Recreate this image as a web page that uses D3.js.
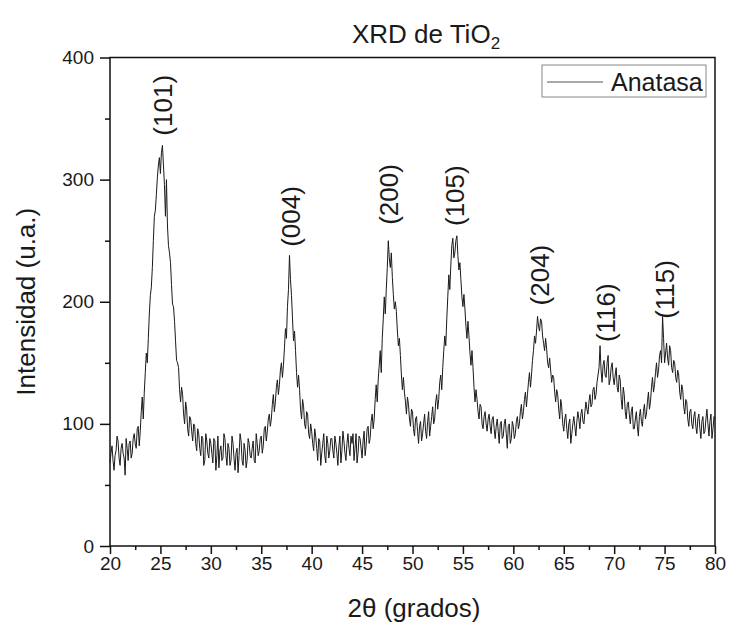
<!DOCTYPE html>
<html>
<head>
<meta charset="utf-8">
<script src="https://cdn.jsdelivr.net/npm/d3@7"></script>
<style>
  body { margin: 0; background: #fff; }
  text { font-family: "Liberation Sans", Arial, sans-serif; fill: #1a1a1a; }
</style>
</head>
<body>
<svg id="chart" width="729" height="627"></svg>
<script>
// scan: 20 - 80 deg, one reading every 0.1 deg
const scanStart = 20, scanStep = 0.1;
const intensity = [
  68, 76, 82, 70, 62, 74, 78, 90, 86, 72, 66, 80, 84, 76, 72, 58, 88, 80, 70, 84,
  86, 72, 76, 88, 92, 84, 80, 96, 98, 82, 94, 110, 122, 104, 126, 142, 158, 150, 170, 190,
  205, 212, 228, 250, 270, 275, 288, 302, 312, 318, 305, 322, 328, 312, 296, 270, 300, 262, 246, 240,
  232, 214, 198, 196, 184, 168, 152, 150, 146, 128, 118, 130, 124, 108, 100, 118, 112, 96, 90, 106,
  104, 94, 86, 100, 98, 84, 78, 96, 92, 80, 74, 90, 88, 66, 70, 92, 86, 76, 72, 88,
  84, 76, 68, 88, 86, 62, 74, 90, 64, 78, 82, 70, 72, 92, 88, 74, 66, 84, 80, 66,
  70, 90, 84, 72, 62, 76, 80, 60, 74, 92, 86, 70, 66, 84, 78, 64, 70, 88, 84, 74,
  72, 80, 86, 70, 68, 92, 84, 74, 78, 88, 90, 76, 82, 96, 98, 86, 94, 104, 108, 98,
  104, 116, 124, 110, 118, 130, 136, 124, 132, 144, 150, 138, 148, 162, 178, 170, 196, 210, 238, 218,
  205, 186, 168, 176, 160, 142, 130, 140, 128, 112, 104, 120, 114, 100, 96, 110, 108, 92, 88, 100,
  94, 84, 78, 96, 90, 80, 70, 88, 86, 66, 76, 84, 92, 74, 68, 90, 84, 72, 78, 88,
  88, 78, 72, 90, 84, 76, 66, 82, 90, 68, 78, 94, 86, 76, 70, 84, 92, 80, 74, 90,
  84, 92, 70, 80, 92, 68, 76, 90, 88, 80, 72, 86, 94, 74, 82, 96, 98, 84, 88, 102,
  108, 96, 104, 120, 132, 118, 136, 148, 160, 142, 170, 186, 204, 190, 210, 228, 250, 236, 228, 240,
  220, 206, 194, 200, 192, 176, 164, 170, 156, 140, 128, 138, 126, 118, 108, 122, 116, 104, 98, 112,
  110, 96, 90, 104, 106, 94, 84, 98, 102, 86, 92, 100, 108, 94, 88, 102, 110, 90, 98, 106,
  114, 100, 104, 118, 124, 112, 120, 134, 140, 128, 146, 160, 172, 164, 186, 204, 222, 210, 230, 246,
  252, 236, 240, 250, 254, 238, 226, 232, 218, 204, 196, 206, 194, 180, 170, 184, 172, 158, 148, 160,
  146, 130, 118, 128, 120, 110, 104, 116, 114, 100, 96, 106, 110, 100, 94, 104, 108, 98, 92, 104,
  106, 96, 88, 98, 104, 94, 84, 100, 102, 88, 90, 100, 104, 92, 80, 98, 100, 84, 88, 102,
  98, 88, 92, 102, 106, 96, 100, 110, 116, 104, 110, 120, 126, 114, 124, 134, 142, 130, 140, 152,
  160, 172, 166, 176, 188, 180, 176, 186, 184, 172, 166, 160, 170, 162, 150, 146, 154, 144, 134, 140,
  138, 126, 118, 128, 124, 112, 104, 120, 114, 100, 94, 104, 108, 96, 88, 100, 104, 84, 92, 100,
  106, 98, 90, 102, 110, 104, 96, 108, 112, 102, 100, 110, 118, 112, 108, 118, 124, 114, 116, 128,
  130, 120, 124, 134, 140, 146, 164, 144, 134, 148, 152, 140, 138, 150, 156, 132, 136, 146, 150, 138,
  132, 140, 146, 130, 126, 140, 136, 120, 112, 130, 124, 110, 104, 116, 118, 108, 100, 110, 114, 96,
  96, 104, 110, 98, 90, 106, 112, 102, 98, 110, 116, 104, 108, 118, 126, 112, 118, 130, 138, 126,
  132, 142, 150, 138, 144, 156, 160, 150, 188, 170, 150, 158, 166, 154, 148, 164, 160, 146, 142, 152,
  150, 138, 134, 144, 140, 126, 120, 132, 128, 114, 108, 120, 118, 104, 98, 110, 112, 100, 96, 106,
  110, 98, 92, 104, 108, 96, 88, 102, 106, 92, 94, 104, 112, 100, 90, 102, 108, 88, 96, 106,
  104
];

const peakLabels = ["(101)", "(004)", "(200)", "(105)", "(204)", "(116)", "(115)"];
const peakTwoTheta = [25.26, 37.96, 47.68, 54.2, 62.56, 69.2, 74.96];
const peakLabelBase = [336, 245, 263, 262, 197, 167, 186];

const xTicks = [20, 25, 30, 35, 40, 45, 50, 55, 60, 65, 70, 75, 80];
const yTicks = [0, 100, 200, 300, 400];
const seriesName = "Anatasa";

const svg = d3.select("#chart");
const plotL = 110, plotR = 715, plotT = 57.5, plotB = 546;

const x = d3.scaleLinear().domain([20, 80]).range([plotL, plotR]);
const y = d3.scaleLinear().domain([0, 400]).range([plotB, plotT]);

const points = intensity.map((v, i) => [scanStart + i * scanStep, v]);

// frame
svg.append("rect")
  .attr("x", plotL).attr("y", plotT)
  .attr("width", plotR - plotL).attr("height", plotB - plotT)
  .attr("fill", "none").attr("stroke", "#111").attr("stroke-width", 1.5);

// minor ticks
const xMinor = d3.axisBottom(x).tickValues(xTicks.slice(1).map(t => t - 2.5)).tickSize(4).tickFormat("");
svg.append("g").attr("transform", `translate(0,${plotB})`).call(xMinor)
  .call(g => g.select(".domain").remove())
  .selectAll("line").attr("stroke", "#111").attr("stroke-width", 1.5);

const yMinor = d3.axisLeft(y).tickValues(yTicks.slice(1).map(t => t - 50)).tickSize(5).tickFormat("");
svg.append("g").attr("transform", `translate(${plotL},0)`).call(yMinor)
  .call(g => g.select(".domain").remove())
  .selectAll("line").attr("stroke", "#111").attr("stroke-width", 1.5);

// major axes
const xAxis = svg.append("g").attr("transform", `translate(0,${plotB})`)
  .call(d3.axisBottom(x).tickValues(xTicks).tickSize(8).tickPadding(3));
xAxis.select(".domain").remove();
xAxis.selectAll("line").attr("stroke", "#111").attr("stroke-width", 1.5);
xAxis.selectAll("text").attr("font-size", 19).attr("fill", "#1a1a1a");

const yAxis = svg.append("g").attr("transform", `translate(${plotL},0)`)
  .call(d3.axisLeft(y).tickValues(yTicks).tickSize(10).tickPadding(6));
yAxis.select(".domain").remove();
yAxis.selectAll("line").attr("stroke", "#111").attr("stroke-width", 1.5);
yAxis.selectAll("text").attr("font-size", 19).attr("fill", "#1a1a1a");

// pattern
svg.append("path")
  .datum(points)
  .attr("fill", "none")
  .attr("stroke", "#1a1a1a")
  .attr("stroke-width", 1)
  .attr("stroke-linejoin", "round")
  .attr("d", d3.line().x(d => x(d[0])).y(d => y(d[1])));

// peak labels
svg.append("g").selectAll("text")
  .data(peakLabels)
  .join("text")
  .attr("transform", (d, i) => `translate(${x(peakTwoTheta[i])},${y(peakLabelBase[i])}) rotate(-90)`)
  .attr("dy", "0.36em")
  .attr("font-size", 26)
  .text(d => d);

// titles
const title = svg.append("text")
  .attr("x", 426).attr("y", 43)
  .attr("text-anchor", "middle")
  .attr("font-size", 26);
title.append("tspan").text("XRD de TiO");
title.append("tspan").attr("font-size", 17).attr("dy", 6).text("2");

svg.append("text")
  .attr("x", 414).attr("y", 617)
  .attr("text-anchor", "middle")
  .attr("font-size", 26)
  .text("2\u03b8 (grados)");

svg.append("text")
  .attr("transform", `translate(35,${(plotT + plotB) / 2}) rotate(-90)`)
  .attr("text-anchor", "middle")
  .attr("font-size", 26)
  .text("Intensidad (u.a.)");

// legend
const legend = svg.append("g").attr("transform", "translate(542,65)");
legend.append("rect")
  .attr("width", 164).attr("height", 32)
  .attr("fill", "#fff").attr("stroke", "#888").attr("stroke-width", 1);
legend.append("line")
  .attr("x1", 5).attr("x2", 61).attr("y1", 17).attr("y2", 17)
  .attr("stroke", "#555").attr("stroke-width", 1.2);
legend.append("text")
  .attr("x", 69).attr("y", 26)
  .attr("font-size", 25)
  .text(seriesName);
</script>
</body>
</html>
